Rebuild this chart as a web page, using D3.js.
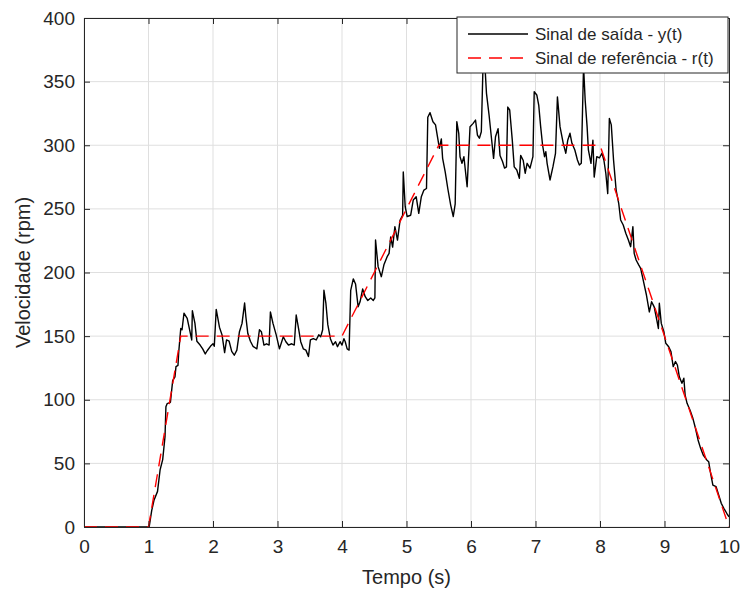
<!DOCTYPE html>
<html>
<head>
<meta charset="utf-8">
<script src="https://cdn.jsdelivr.net/npm/d3@7"></script>
<style>
  body { margin: 0; background: #fff; }
  text { font-family: "Liberation Sans", Arial, sans-serif; fill: #262626; }
</style>
</head>
<body>
<div id="chart"></div>
<script>
// output signal y(t)
let outT = [0, 1.0, 1.01, 1.05, 1.085, 1.14, 1.18, 1.22, 1.256, 1.27, 1.29, 1.34, 1.375, 1.41, 1.426, 1.457, 1.468, 1.5, 1.52, 1.55,
    1.60, 1.65, 1.67, 1.68, 1.72, 1.75, 1.80, 1.84, 1.88, 1.91, 1.96, 2.0, 2.02, 2.05, 2.10, 2.14, 2.18, 2.21, 2.25, 2.29,
    2.33, 2.37, 2.41, 2.45, 2.49, 2.51, 2.54, 2.58, 2.62, 2.68, 2.72, 2.75, 2.79, 2.83, 2.87, 2.89, 2.93, 2.98, 3.03, 3.09,
    3.13, 3.17, 3.22, 3.26, 3.29, 3.33, 3.36, 3.40, 3.44, 3.48, 3.51, 3.555, 3.60, 3.64, 3.67, 3.70, 3.72, 3.75, 3.78, 3.82,
    3.86, 3.90, 3.93, 3.97, 4.0, 4.03, 4.05, 4.08, 4.11, 4.135, 4.175, 4.21, 4.25, 4.28, 4.32, 4.36, 4.40, 4.445, 4.485, 4.51,
    4.52, 4.56, 4.61, 4.65, 4.70, 4.73, 4.755, 4.785, 4.82, 4.86, 4.90, 4.94, 4.95, 4.98, 5.01, 5.065, 5.105, 5.15, 5.19, 5.23,
    5.27, 5.31, 5.33, 5.365, 5.41, 5.45, 5.48, 5.51, 5.54, 5.56, 5.60, 5.64, 5.685, 5.725, 5.755, 5.78, 5.81, 5.83, 5.86, 5.89,
    5.94, 5.985, 6.03, 6.07, 6.10, 6.13, 6.16, 6.19, 6.21, 6.24, 6.28, 6.315, 6.35, 6.38, 6.42, 6.45, 6.49, 6.52, 6.55, 6.57,
    6.60, 6.64, 6.67, 6.71, 6.75, 6.77, 6.81, 6.84, 6.87, 6.915, 6.96, 6.98, 7.02, 7.05, 7.08, 7.11, 7.14, 7.16, 7.18, 7.225,
    7.27, 7.31, 7.34, 7.38, 7.43, 7.47, 7.50, 7.535, 7.565, 7.61, 7.65, 7.68, 7.71, 7.745, 7.77, 7.80, 7.82, 7.86, 7.89, 7.91,
    7.95, 7.99, 8.03, 8.06, 8.09, 8.12, 8.145, 8.175, 8.21, 8.25, 8.29, 8.32, 8.36, 8.40, 8.44, 8.475, 8.51, 8.53, 8.56, 8.60,
    8.63, 8.67, 8.72, 8.765, 8.80, 8.84, 8.88, 8.905, 8.92, 8.95, 8.99, 9.02, 9.065, 9.10, 9.135, 9.17, 9.20, 9.23, 9.27, 9.30,
    9.32, 9.35, 9.395, 9.44, 9.48, 9.52, 9.56, 9.60, 9.655, 9.685, 9.715, 9.75, 9.80, 9.84, 9.88, 9.92, 9.965, 10.0];
let outY = [0, 0, 0, 13, 21, 28, 45, 53, 71, 94.5, 97, 98, 115, 118, 126, 127, 137, 156, 155, 168,
    164, 152, 147, 170, 160, 146, 143, 140, 136, 138.5, 142, 144, 142, 171, 157, 151, 137, 147, 146, 138,
    135, 139, 153.5, 160, 176, 165, 152, 146, 142, 140, 155, 153.5, 143, 144, 143, 169, 160, 151, 140, 149.5,
    145.6, 143, 144, 143, 166.6, 155, 145.6, 140, 139, 134, 147, 148, 147, 151, 149.5, 155, 186, 176, 159, 148,
    143, 145.6, 141.7, 145.6, 143, 148, 145.6, 140, 139, 186, 195, 191, 173, 177, 187, 181, 178, 180, 178, 180,
    225.5, 204.6, 196.7, 206, 212.4, 215, 228, 220, 236, 225.5, 241, 245, 279, 251.7, 244, 245, 257, 259.6, 246.5, 259.6,
    264.8, 266, 322, 325.6, 318.5, 316, 306.7, 297.6, 305, 289.7, 279, 266, 253, 244, 254, 318.5, 309.4, 291, 285.8, 291,
    267.4, 314.6, 317, 319.8, 308, 305.5, 310.6, 370, 368, 340.8, 323.8, 306.7, 289.7, 306.7, 313, 292, 287, 282, 283, 330,
    327.7, 304, 283, 280.5, 274, 292, 288, 278, 285.8, 282, 291, 342, 339.5, 331.6, 314.6, 300, 291, 295, 285.8, 272.7,
    283, 293.7, 338, 314.6, 301.5, 293.7, 304, 309.4, 301.5, 296.3, 288.4, 284.5, 285.8, 362, 335.6, 314.6, 296.3, 285.8, 304, 275,
    291, 290, 293.7, 288.4, 278, 262, 321, 316, 288.4, 264.8, 254.4, 241.3, 237.3, 230.8, 225.5, 220.3, 236, 215, 209.8, 206,
    203.3, 194, 182.3, 169, 177, 173, 162.7, 156, 175.8, 160, 153.5, 144.4, 141.7, 137.8, 126, 130, 127.3, 118, 112.9, 116.9,
    103.7, 97.2, 91.9, 85.4, 77.6, 68.4, 61.8, 56.6, 52.7, 51.3, 42.2, 33, 31.7, 25.1, 18.6, 14.7, 10.8, 8];

// reference signal r(t)
let refT = [0, 1, 1.5, 4, 5.5, 8, 10];
let refY = [0, 0, 150, 150, 300, 300, 0];

let xTicks = [0, 1, 2, 3, 4, 5, 6, 7, 8, 9, 10];
let yTicks = [0, 50, 100, 150, 200, 250, 300, 350, 400];
let legendNames = ["Sinal de saída - y(t)", "Sinal de referência - r(t)"];

let width = 740, height = 590;
let plotLeft = 84, plotRight = 729, plotTop = 18, plotBottom = 527;

let svg = d3.select("#chart").append("svg")
            .attr("width", width)
            .attr("height", height);

let x = d3.scaleLinear().domain([0, 10]).range([plotLeft, plotRight]);
let y = d3.scaleLinear().domain([0, 400]).range([plotBottom, plotTop]);

// grid
svg.append("g").selectAll("line").data(xTicks).join("line")
   .attr("x1", d => x(d)).attr("x2", d => x(d))
   .attr("y1", plotTop).attr("y2", plotBottom)
   .attr("stroke", "#dfdfdf").attr("stroke-width", 1);
svg.append("g").selectAll("line").data(yTicks).join("line")
   .attr("x1", plotLeft).attr("x2", plotRight)
   .attr("y1", d => y(d)).attr("y2", d => y(d))
   .attr("stroke", "#dfdfdf").attr("stroke-width", 1);

svg.append("clipPath").attr("id", "plotClip")
   .append("rect").attr("x", plotLeft).attr("y", plotTop)
   .attr("width", plotRight - plotLeft).attr("height", plotBottom - plotTop);

let plot = svg.append("g").attr("clip-path", "url(#plotClip)");

let outData = outT.map((t, i) => [t, outY[i]]);
let refData = refT.map((t, i) => [t, refY[i]]);
let line = d3.line().x(d => x(d[0])).y(d => y(d[1]));

plot.append("path").datum(outData)
    .attr("d", line)
    .attr("fill", "none")
    .attr("stroke", "#000")
    .attr("stroke-width", 1.4)
    .attr("stroke-linejoin", "round");

plot.append("path").datum(refData)
    .attr("d", line)
    .attr("fill", "none")
    .attr("stroke", "#ff0000")
    .attr("stroke-width", 1.4)
    .attr("stroke-dasharray", "13,8");

// axes, ticks inside on all four sides
let tickLen = 6;
let axisColor = "#262626";

let xAxis = svg.append("g").attr("transform", `translate(0,${plotBottom})`)
               .call(d3.axisBottom(x).tickValues(xTicks).tickSize(-tickLen).tickPadding(13));
let yAxis = svg.append("g").attr("transform", `translate(${plotLeft},0)`)
               .call(d3.axisLeft(y).tickValues(yTicks).tickSize(-tickLen).tickPadding(9));
let xTop = svg.append("g").attr("transform", `translate(0,${plotTop})`)
              .call(d3.axisTop(x).tickValues(xTicks).tickSize(-tickLen).tickFormat(""));
let yRight = svg.append("g").attr("transform", `translate(${plotRight},0)`)
                .call(d3.axisRight(y).tickValues(yTicks).tickSize(-tickLen).tickFormat(""));

[xAxis, yAxis, xTop, yRight].forEach(a => {
    a.select(".domain").attr("stroke", axisColor).attr("stroke-width", 1);
    a.selectAll(".tick line").attr("stroke", axisColor);
    a.selectAll("text").style("font-family", "Liberation Sans, Arial, sans-serif")
     .style("font-size", "19px").attr("fill", axisColor);
});

svg.append("text")
   .attr("x", (plotLeft + plotRight) / 2).attr("y", 584)
   .attr("text-anchor", "middle")
   .style("font-size", "20px")
   .text("Tempo (s)");

svg.append("text")
   .attr("transform", `translate(30,${(plotTop + plotBottom) / 2}) rotate(-90)`)
   .attr("text-anchor", "middle")
   .style("font-size", "20px")
   .text("Velocidade (rpm)");

// legend
let legend = svg.append("g");
legend.append("rect")
      .attr("x", 457).attr("y", 17)
      .attr("width", 271).attr("height", 56)
      .attr("fill", "#fff")
      .attr("stroke", axisColor).attr("stroke-width", 1);

let legendColors = ["#000", "#ff0000"];
let legendDash = [null, "13,8"];
legendNames.forEach((name, i) => {
    let ly = 34 + i * 24;
    legend.append("line")
          .attr("x1", 468).attr("x2", 528)
          .attr("y1", ly).attr("y2", ly)
          .attr("stroke", legendColors[i]).attr("stroke-width", 1.3)
          .attr("stroke-dasharray", legendDash[i]);
    legend.append("text")
          .attr("x", 535).attr("y", ly + 6)
          .style("font-size", "17px")
          .text(name);
});
</script>
</body>
</html>
